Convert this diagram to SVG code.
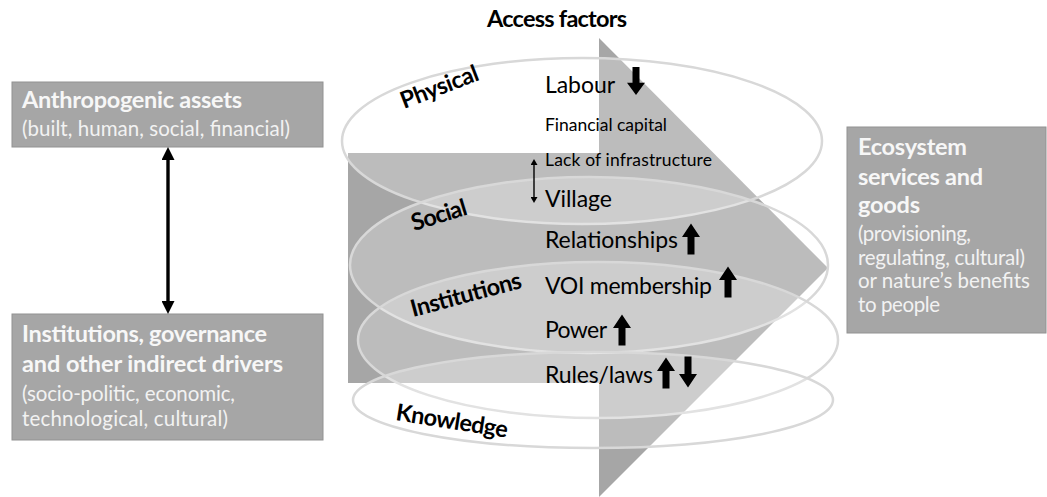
<svg xmlns="http://www.w3.org/2000/svg" width="1047" height="497" viewBox="0 0 1047 497">
<style>
text{font-family:Lato,"Liberation Sans",sans-serif;}
.box{fill:#a6a6a6;stroke:#929292;stroke-width:1;}
.bh{font-weight:bold;font-size:23.5px;fill:#f7f7f7;}
.bs{font-size:20.5px;fill:#f2f2f2;}
.layer{fill:#ffffff;fill-opacity:0.25;stroke:#d8d8d8;stroke-width:2.5;}
.lab{font-weight:bold;font-size:23.5px;fill:#000;}
.fac{font-size:23px;fill:#000;}
.sm{font-size:17.5px;fill:#000;}
.shape{fill:#a6a6a6;}
.blk{fill:#000;}
</style>
<defs>
<path id="up" d="M0,-15.5 L9,-2 L3.5,-2 L3.5,15.5 L-3.5,15.5 L-3.5,-2 L-9,-2 Z"/>
<marker id="ah" viewBox="0 0 13 13" markerUnits="userSpaceOnUse" markerWidth="13" markerHeight="13" refX="5" refY="6.5" orient="auto-start-reverse">
<path d="M0,0 L13,6.5 L0,13 Z" fill="#000"/>
</marker>
<marker id="ahs" viewBox="0 0 6 7" markerUnits="userSpaceOnUse" markerWidth="6" markerHeight="7" refX="2" refY="3.5" orient="auto-start-reverse">
<path d="M0,0 L6,3.5 L0,7 Z" fill="#000"/>
</marker>
</defs>

<g id="box-anthropogenic">
<rect class="box" x="12" y="82" width="311" height="65"/>
<text class="bh" x="22" y="108" textLength="220">Anthropogenic assets</text>
<text class="bs" x="22" y="136" textLength="268">(built, human, social, financial)</text>
</g>

<g id="box-institutions">
<rect class="box" x="12" y="314" width="311" height="126"/>
<text class="bh" x="22" y="342" textLength="245">Institutions, governance</text>
<text class="bh" x="22" y="372" textLength="261">and other indirect drivers</text>
<text class="bs" x="22" y="401" textLength="213">(socio-politic, economic,</text>
<text class="bs" x="22" y="426" textLength="206">technological, cultural)</text>
</g>

<g id="box-ecosystem">
<rect class="box" x="847" y="127" width="199" height="206"/>
<text class="bh" x="858" y="155" textLength="109">Ecosystem</text>
<text class="bh" x="858" y="185" textLength="125">services and</text>
<text class="bh" x="858" y="213" textLength="62">goods</text>
<text class="bs" x="858" y="241" textLength="113">(provisioning,</text>
<text class="bs" x="858" y="265" textLength="167">regulating, cultural)</text>
<text class="bs" x="858" y="288" textLength="172">or nature’s benefits</text>
<text class="bs" x="858" y="312" textLength="82">to people</text>
</g>

<g id="access-factors">
<text class="lab" x="487" y="27" textLength="140">Access factors</text>
<rect class="shape" x="348" y="153" width="251" height="230"/>
<polygon class="shape" points="599,38 828,268 599,497"/>
<ellipse class="layer" cx="582" cy="141" rx="240" ry="83"/>
<ellipse class="layer" cx="589" cy="265" rx="239" ry="88"/>
<ellipse class="layer" cx="598" cy="340" rx="240" ry="78"/>
<ellipse class="layer" cx="593" cy="400" rx="240" ry="48"/>

<text class="lab" transform="translate(404,109) rotate(-21)" textLength="82">Physical</text>
<text class="lab" transform="translate(414,231) rotate(-17)" textLength="57">Social</text>
<text class="lab" transform="translate(413,317) rotate(-15)" textLength="114">Institutions</text>
<text class="lab" transform="translate(395,420) rotate(9)" textLength="113">Knowledge</text>

<text class="fac" x="545" y="93" textLength="70">Labour</text>
<text class="sm" x="545" y="131" textLength="122">Financial capital</text>
<text class="sm" x="545" y="166" textLength="167">Lack of infrastructure</text>
<text class="fac" x="545" y="207" textLength="67">Village</text>
<text class="fac" x="545" y="248" textLength="133">Relationships</text>
<text class="fac" x="545" y="294" textLength="167">VOI membership</text>
<text class="fac" x="545" y="338" textLength="62">Power</text>
<text class="fac" x="545" y="383" textLength="108">Rules/laws</text>

<use href="#up" class="blk" transform="translate(636,81) rotate(180) scale(1,0.9)"/>
<use href="#up" class="blk" transform="translate(691,239)"/>
<use href="#up" class="blk" transform="translate(728,282)"/>
<use href="#up" class="blk" transform="translate(622,330)"/>
<use href="#up" class="blk" transform="translate(666,373)"/>
<use href="#up" class="blk" transform="translate(688,372) rotate(180)"/>
<line x1="534" y1="163" x2="534" y2="199" stroke="#000" stroke-width="1.4" marker-start="url(#ahs)" marker-end="url(#ahs)"/>
</g>

<g id="connectors">
<line x1="168" y1="155" x2="168" y2="306" stroke="#000" stroke-width="3.4" marker-start="url(#ah)" marker-end="url(#ah)"/>
</g>
</svg>
